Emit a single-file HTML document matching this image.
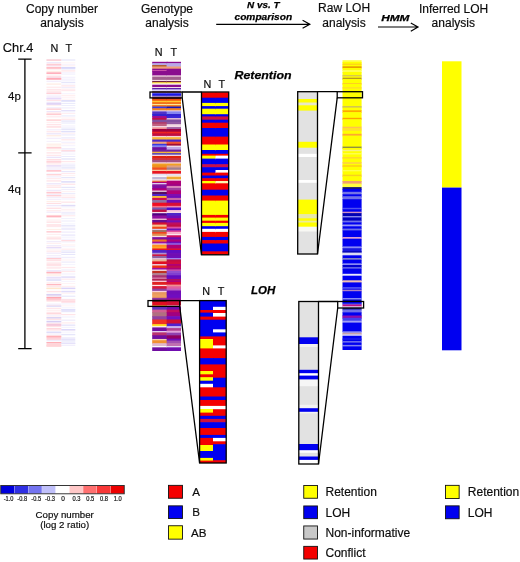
<!DOCTYPE html>
<html lang="en"><head><meta charset="utf-8"><title>LOH analysis figure</title>
<style>
html,body{margin:0;padding:0;background:#fff;}
body{width:520px;height:562px;overflow:hidden;}
svg{display:block;}
svg text{font-family:"Liberation Sans",Arial,Helvetica,sans-serif;fill:#0c0c0c;stroke:#0c0c0c;stroke-width:0.18px;}
</style></head>
<body>
<svg width="520" height="562" viewBox="0 0 520 562">
<defs><filter id="soft" x="-5%" y="-1%" width="110%" height="102%"><feGaussianBlur stdDeviation="0.35"/></filter></defs>
<rect width="520" height="562" fill="#fff"/>
<rect x="201.50" y="92.20" width="14.90" height="6.20" fill="#f40000"/>
<rect x="201.50" y="97.70" width="14.90" height="5.90" fill="#0000f0"/>
<rect x="201.50" y="102.90" width="14.90" height="3.90" fill="#ffff00"/>
<rect x="201.50" y="106.10" width="14.90" height="3.30" fill="#0000f0"/>
<rect x="201.50" y="108.70" width="14.90" height="6.20" fill="#ffff00"/>
<rect x="201.50" y="114.20" width="14.90" height="2.90" fill="#0000f0"/>
<rect x="201.50" y="116.40" width="14.90" height="4.00" fill="#d0103c"/>
<rect x="201.50" y="119.70" width="14.90" height="3.70" fill="#0000f0"/>
<rect x="201.50" y="122.70" width="14.90" height="6.00" fill="#f40000"/>
<rect x="201.50" y="128.00" width="14.90" height="9.30" fill="#0000f0"/>
<rect x="201.50" y="136.60" width="14.90" height="8.60" fill="#f40000"/>
<rect x="201.50" y="144.50" width="14.90" height="6.20" fill="#ffff00"/>
<rect x="201.50" y="150.00" width="14.90" height="4.50" fill="#0000f0"/>
<rect x="201.50" y="153.80" width="14.90" height="2.50" fill="#f40000"/>
<rect x="201.50" y="155.60" width="14.90" height="3.70" fill="#ffff00"/>
<rect x="201.50" y="158.60" width="14.90" height="6.30" fill="#0000f0"/>
<rect x="201.50" y="164.20" width="14.90" height="3.70" fill="#c8104c"/>
<rect x="201.50" y="167.20" width="14.90" height="3.50" fill="#0000f0"/>
<rect x="201.50" y="170.00" width="14.90" height="3.30" fill="#0000f0"/>
<rect x="201.50" y="172.60" width="14.90" height="3.60" fill="#f40000"/>
<rect x="201.50" y="175.50" width="14.90" height="3.40" fill="#0000f0"/>
<rect x="201.50" y="178.20" width="14.90" height="3.50" fill="#f40000"/>
<rect x="201.50" y="181.00" width="14.90" height="3.00" fill="#ffff00"/>
<rect x="201.50" y="183.30" width="14.90" height="7.10" fill="#f40000"/>
<rect x="201.50" y="189.70" width="14.90" height="6.50" fill="#0000f0"/>
<rect x="201.50" y="195.50" width="14.90" height="5.80" fill="#f40000"/>
<rect x="201.50" y="200.60" width="14.90" height="15.00" fill="#ffff00"/>
<rect x="201.50" y="214.90" width="14.90" height="3.40" fill="#f40000"/>
<rect x="201.50" y="217.60" width="14.90" height="3.80" fill="#ffff00"/>
<rect x="201.50" y="220.70" width="14.90" height="2.90" fill="#f40000"/>
<rect x="201.50" y="222.90" width="14.90" height="4.00" fill="#ffff00"/>
<rect x="201.50" y="226.20" width="14.90" height="3.30" fill="#0000f0"/>
<rect x="201.50" y="228.80" width="14.90" height="3.80" fill="#ffffff"/>
<rect x="201.50" y="231.90" width="14.90" height="5.70" fill="#f40000"/>
<rect x="201.50" y="236.90" width="14.90" height="3.90" fill="#0000f0"/>
<rect x="201.50" y="240.10" width="14.90" height="4.10" fill="#f40000"/>
<rect x="201.50" y="243.50" width="14.90" height="8.50" fill="#0000f0"/>
<rect x="201.50" y="251.30" width="14.90" height="3.40" fill="#f40000"/>
<rect x="215.50" y="92.20" width="13.20" height="6.20" fill="#f40000"/>
<rect x="215.50" y="97.70" width="13.20" height="5.90" fill="#0000f0"/>
<rect x="215.50" y="102.90" width="13.20" height="3.90" fill="#ffff00"/>
<rect x="215.50" y="106.10" width="13.20" height="3.30" fill="#0000f0"/>
<rect x="215.50" y="108.70" width="13.20" height="6.20" fill="#ffff00"/>
<rect x="215.50" y="114.20" width="13.20" height="2.90" fill="#0000f0"/>
<rect x="215.50" y="116.40" width="13.20" height="4.00" fill="#d0103c"/>
<rect x="215.50" y="119.70" width="13.20" height="3.70" fill="#0000f0"/>
<rect x="215.50" y="122.70" width="13.20" height="6.00" fill="#f40000"/>
<rect x="215.50" y="128.00" width="13.20" height="9.30" fill="#0000f0"/>
<rect x="215.50" y="136.60" width="13.20" height="8.60" fill="#f40000"/>
<rect x="215.50" y="144.50" width="13.20" height="6.20" fill="#ffff00"/>
<rect x="215.50" y="150.00" width="13.20" height="4.50" fill="#0000f0"/>
<rect x="215.50" y="153.80" width="13.20" height="2.50" fill="#f40000"/>
<rect x="215.50" y="155.60" width="13.20" height="3.70" fill="#ffffff"/>
<rect x="215.50" y="158.60" width="13.20" height="6.30" fill="#0000f0"/>
<rect x="215.50" y="164.20" width="13.20" height="3.70" fill="#c8104c"/>
<rect x="215.50" y="167.20" width="13.20" height="3.50" fill="#0000f0"/>
<rect x="215.50" y="170.00" width="13.20" height="3.30" fill="#ffffff"/>
<rect x="215.50" y="172.60" width="13.20" height="3.60" fill="#f40000"/>
<rect x="215.50" y="175.50" width="13.20" height="3.40" fill="#0000f0"/>
<rect x="215.50" y="178.20" width="13.20" height="3.50" fill="#f40000"/>
<rect x="215.50" y="181.00" width="13.20" height="3.00" fill="#fff8b0"/>
<rect x="215.50" y="183.30" width="13.20" height="7.10" fill="#f40000"/>
<rect x="215.50" y="189.70" width="13.20" height="6.50" fill="#0000f0"/>
<rect x="215.50" y="195.50" width="13.20" height="5.80" fill="#f40000"/>
<rect x="215.50" y="200.60" width="13.20" height="15.00" fill="#ffff00"/>
<rect x="215.50" y="214.90" width="13.20" height="3.40" fill="#f40000"/>
<rect x="215.50" y="217.60" width="13.20" height="3.80" fill="#ffff00"/>
<rect x="215.50" y="220.70" width="13.20" height="2.90" fill="#f40000"/>
<rect x="215.50" y="222.90" width="13.20" height="4.00" fill="#ffff00"/>
<rect x="215.50" y="226.20" width="13.20" height="3.30" fill="#0000f0"/>
<rect x="215.50" y="228.80" width="13.20" height="3.80" fill="#ffffff"/>
<rect x="215.50" y="231.90" width="13.20" height="5.70" fill="#f40000"/>
<rect x="215.50" y="236.90" width="13.20" height="3.90" fill="#0000f0"/>
<rect x="215.50" y="240.10" width="13.20" height="4.10" fill="#f40000"/>
<rect x="215.50" y="243.50" width="13.20" height="8.50" fill="#0000f0"/>
<rect x="215.50" y="251.30" width="13.20" height="3.40" fill="#f40000"/>
<rect x="199.60" y="300.60" width="14.30" height="10.10" fill="#0000f0"/>
<rect x="199.60" y="310.00" width="14.30" height="3.30" fill="#f40000"/>
<rect x="199.60" y="312.60" width="14.30" height="4.70" fill="#0000f0"/>
<rect x="199.60" y="316.60" width="14.30" height="3.80" fill="#f40000"/>
<rect x="199.60" y="319.70" width="14.30" height="17.40" fill="#0000f0"/>
<rect x="199.60" y="336.40" width="14.30" height="3.30" fill="#f40000"/>
<rect x="199.60" y="339.00" width="14.30" height="10.10" fill="#ffff00"/>
<rect x="199.60" y="348.40" width="14.30" height="10.40" fill="#f40000"/>
<rect x="199.60" y="358.10" width="14.30" height="7.00" fill="#0000f0"/>
<rect x="199.60" y="364.40" width="14.30" height="7.30" fill="#f40000"/>
<rect x="199.60" y="371.00" width="14.30" height="4.00" fill="#ffff00"/>
<rect x="199.60" y="374.30" width="14.30" height="3.60" fill="#f40000"/>
<rect x="199.60" y="377.20" width="14.30" height="4.20" fill="#ffff00"/>
<rect x="199.60" y="380.70" width="14.30" height="3.80" fill="#0000f0"/>
<rect x="199.60" y="383.80" width="14.30" height="4.20" fill="#ffffff"/>
<rect x="199.60" y="387.30" width="14.30" height="9.90" fill="#f40000"/>
<rect x="199.60" y="396.50" width="14.30" height="4.20" fill="#0000f0"/>
<rect x="199.60" y="400.00" width="14.30" height="6.60" fill="#f40000"/>
<rect x="199.60" y="405.90" width="14.30" height="3.80" fill="#ffffff"/>
<rect x="199.60" y="409.00" width="14.30" height="4.30" fill="#ffff00"/>
<rect x="199.60" y="412.60" width="14.30" height="3.90" fill="#f40000"/>
<rect x="199.60" y="415.80" width="14.30" height="3.80" fill="#0000f0"/>
<rect x="199.60" y="418.90" width="14.30" height="4.00" fill="#d0103c"/>
<rect x="199.60" y="422.20" width="14.30" height="6.50" fill="#0000f0"/>
<rect x="199.60" y="428.00" width="14.30" height="7.60" fill="#f40000"/>
<rect x="199.60" y="434.90" width="14.30" height="3.70" fill="#0000f0"/>
<rect x="199.60" y="437.90" width="14.30" height="7.80" fill="#f40000"/>
<rect x="199.60" y="445.00" width="14.30" height="6.70" fill="#ffff00"/>
<rect x="199.60" y="451.00" width="14.30" height="7.60" fill="#0000f0"/>
<rect x="199.60" y="457.90" width="14.30" height="3.40" fill="#ffff00"/>
<rect x="199.60" y="460.60" width="14.30" height="2.40" fill="#f40000"/>
<rect x="213.00" y="300.60" width="13.20" height="6.90" fill="#0000f0"/>
<rect x="213.00" y="306.80" width="13.20" height="3.90" fill="#ffffff"/>
<rect x="213.00" y="310.00" width="13.20" height="3.70" fill="#f40000"/>
<rect x="213.00" y="313.00" width="13.20" height="4.30" fill="#ffffff"/>
<rect x="213.00" y="316.60" width="13.20" height="3.80" fill="#f40000"/>
<rect x="213.00" y="319.70" width="13.20" height="10.30" fill="#0000f0"/>
<rect x="213.00" y="329.30" width="13.20" height="3.80" fill="#ffffff"/>
<rect x="213.00" y="332.40" width="13.20" height="4.70" fill="#0000f0"/>
<rect x="213.00" y="336.40" width="13.20" height="9.70" fill="#f40000"/>
<rect x="213.00" y="345.40" width="13.20" height="3.70" fill="#ffffff"/>
<rect x="213.00" y="348.40" width="13.20" height="10.40" fill="#f40000"/>
<rect x="213.00" y="358.10" width="13.20" height="7.00" fill="#0000f0"/>
<rect x="213.00" y="364.40" width="13.20" height="14.00" fill="#f40000"/>
<rect x="213.00" y="377.70" width="13.20" height="10.30" fill="#0000f0"/>
<rect x="213.00" y="387.30" width="13.20" height="9.90" fill="#f40000"/>
<rect x="213.00" y="396.50" width="13.20" height="4.20" fill="#0000f0"/>
<rect x="213.00" y="400.00" width="13.20" height="6.60" fill="#f40000"/>
<rect x="213.00" y="405.90" width="13.20" height="4.00" fill="#ffffff"/>
<rect x="213.00" y="409.20" width="13.20" height="7.30" fill="#f40000"/>
<rect x="213.00" y="415.80" width="13.20" height="3.80" fill="#0000f0"/>
<rect x="213.00" y="418.90" width="13.20" height="4.00" fill="#d0103c"/>
<rect x="213.00" y="422.20" width="13.20" height="6.50" fill="#0000f0"/>
<rect x="213.00" y="428.00" width="13.20" height="7.60" fill="#f40000"/>
<rect x="213.00" y="434.90" width="13.20" height="3.70" fill="#0000f0"/>
<rect x="213.00" y="437.90" width="13.20" height="4.10" fill="#ffffff"/>
<rect x="213.00" y="441.30" width="13.20" height="3.60" fill="#f40000"/>
<rect x="213.00" y="444.20" width="13.20" height="16.70" fill="#0000f0"/>
<rect x="213.00" y="460.20" width="13.20" height="2.80" fill="#f40000"/>
<rect x="297.70" y="91.70" width="19.80" height="8.00" fill="#e2e2e2"/>
<rect x="297.70" y="99.00" width="19.80" height="4.20" fill="#ffff00"/>
<rect x="297.70" y="102.50" width="19.80" height="3.50" fill="#e8e8c8"/>
<rect x="297.70" y="105.30" width="19.80" height="6.00" fill="#ffff00"/>
<rect x="297.70" y="110.60" width="19.80" height="31.90" fill="#e2e2e2"/>
<rect x="297.70" y="141.80" width="19.80" height="6.60" fill="#ffff00"/>
<rect x="297.70" y="147.70" width="19.80" height="6.80" fill="#e2e2e2"/>
<rect x="297.70" y="153.80" width="19.80" height="3.90" fill="#ffffff"/>
<rect x="297.70" y="157.00" width="19.80" height="23.70" fill="#e2e2e2"/>
<rect x="297.70" y="180.00" width="19.80" height="3.50" fill="#ffffff"/>
<rect x="297.70" y="182.80" width="19.80" height="17.50" fill="#e2e2e2"/>
<rect x="297.70" y="199.60" width="19.80" height="15.20" fill="#ffff00"/>
<rect x="297.70" y="214.10" width="19.80" height="4.90" fill="#e8e8a8"/>
<rect x="297.70" y="218.30" width="19.80" height="3.10" fill="#ffff00"/>
<rect x="297.70" y="220.70" width="19.80" height="2.50" fill="#ecec9c"/>
<rect x="297.70" y="222.50" width="19.80" height="4.90" fill="#ffff00"/>
<rect x="297.70" y="226.70" width="19.80" height="5.50" fill="#f8f8f4"/>
<rect x="297.70" y="231.50" width="19.80" height="22.50" fill="#e2e2e2"/>
<rect x="298.80" y="301.50" width="19.70" height="36.50" fill="#e2e2e2"/>
<rect x="298.80" y="337.30" width="19.70" height="7.40" fill="#0000f0"/>
<rect x="298.80" y="344.00" width="19.70" height="3.70" fill="#f0f0f0"/>
<rect x="298.80" y="347.00" width="19.70" height="23.50" fill="#e2e2e2"/>
<rect x="298.80" y="369.80" width="19.70" height="4.10" fill="#0000f0"/>
<rect x="298.80" y="373.20" width="19.70" height="3.10" fill="#ffffff"/>
<rect x="298.80" y="375.60" width="19.70" height="4.50" fill="#0000f0"/>
<rect x="298.80" y="379.40" width="19.70" height="7.50" fill="#f6f6f6"/>
<rect x="298.80" y="386.20" width="19.70" height="19.30" fill="#e2e2e2"/>
<rect x="298.80" y="404.80" width="19.70" height="4.10" fill="#f2f2f2"/>
<rect x="298.80" y="408.20" width="19.70" height="4.30" fill="#0000f0"/>
<rect x="298.80" y="411.80" width="19.70" height="2.30" fill="#f2f2f2"/>
<rect x="298.80" y="413.40" width="19.70" height="31.30" fill="#e2e2e2"/>
<rect x="298.80" y="444.00" width="19.70" height="6.90" fill="#0000f0"/>
<rect x="298.80" y="450.20" width="19.70" height="3.30" fill="#ffffff"/>
<rect x="298.80" y="452.80" width="19.70" height="4.40" fill="#e2e2e2"/>
<rect x="298.80" y="456.50" width="19.70" height="4.10" fill="#0000f0"/>
<rect x="298.80" y="459.90" width="19.70" height="4.10" fill="#ffffff"/>
<rect x="342.50" y="60.20" width="19.10" height="2.50" fill="#ffff40"/>
<rect x="342.50" y="62.00" width="19.10" height="2.40" fill="#ffff00"/>
<rect x="342.50" y="63.70" width="19.10" height="1.70" fill="#ffc820"/>
<rect x="342.50" y="64.70" width="19.10" height="2.50" fill="#ffff00"/>
<rect x="342.50" y="66.50" width="19.10" height="1.90" fill="#e07800"/>
<rect x="342.50" y="67.70" width="19.10" height="3.00" fill="#ffff00"/>
<rect x="342.50" y="70.00" width="19.10" height="2.70" fill="#ffff50"/>
<rect x="342.50" y="72.00" width="19.10" height="3.70" fill="#ffff00"/>
<rect x="342.50" y="75.00" width="19.10" height="2.10" fill="#d8c850"/>
<rect x="342.50" y="76.40" width="19.10" height="2.00" fill="#ffff00"/>
<rect x="342.50" y="77.70" width="19.10" height="2.00" fill="#b89820"/>
<rect x="342.50" y="79.00" width="19.10" height="4.70" fill="#ffff00"/>
<rect x="342.50" y="83.00" width="19.10" height="1.70" fill="#ffd020"/>
<rect x="342.50" y="84.00" width="19.10" height="4.00" fill="#ffff00"/>
<rect x="342.50" y="87.30" width="19.10" height="1.90" fill="#ffd830"/>
<rect x="342.50" y="88.50" width="19.10" height="18.40" fill="#ffff00"/>
<rect x="342.50" y="106.20" width="19.10" height="2.00" fill="#c8b860"/>
<rect x="342.50" y="107.50" width="19.10" height="3.50" fill="#ffff00"/>
<rect x="342.50" y="110.30" width="19.10" height="2.50" fill="#ffa800"/>
<rect x="342.50" y="112.10" width="19.10" height="6.40" fill="#ffff00"/>
<rect x="342.50" y="117.80" width="19.10" height="2.10" fill="#ffa000"/>
<rect x="342.50" y="119.20" width="19.10" height="8.20" fill="#ffff00"/>
<rect x="342.50" y="126.70" width="19.10" height="2.50" fill="#ffc050"/>
<rect x="342.50" y="128.50" width="19.10" height="1.60" fill="#ffff00"/>
<rect x="342.50" y="129.40" width="19.10" height="1.90" fill="#ffd040"/>
<rect x="342.50" y="130.60" width="19.10" height="3.90" fill="#ffff00"/>
<rect x="342.50" y="133.80" width="19.10" height="2.50" fill="#ffa830"/>
<rect x="342.50" y="135.60" width="19.10" height="11.70" fill="#ffff00"/>
<rect x="342.50" y="146.60" width="19.10" height="2.10" fill="#909040"/>
<rect x="342.50" y="148.00" width="19.10" height="2.50" fill="#ffff00"/>
<rect x="342.50" y="149.80" width="19.10" height="2.10" fill="#f8f080"/>
<rect x="342.50" y="151.20" width="19.10" height="2.90" fill="#ffff00"/>
<rect x="342.50" y="153.40" width="19.10" height="1.60" fill="#ffff80"/>
<rect x="342.50" y="154.30" width="19.10" height="3.70" fill="#ffff00"/>
<rect x="342.50" y="157.30" width="19.10" height="1.80" fill="#ffc840"/>
<rect x="342.50" y="158.40" width="19.10" height="4.60" fill="#ffff00"/>
<rect x="342.50" y="162.30" width="19.10" height="2.10" fill="#ffc850"/>
<rect x="342.50" y="163.70" width="19.10" height="2.50" fill="#ffff00"/>
<rect x="342.50" y="165.50" width="19.10" height="1.70" fill="#ffb020"/>
<rect x="342.50" y="166.50" width="19.10" height="4.50" fill="#ffff00"/>
<rect x="342.50" y="170.30" width="19.10" height="1.60" fill="#ffff70"/>
<rect x="342.50" y="171.20" width="19.10" height="4.20" fill="#ffff00"/>
<rect x="342.50" y="174.70" width="19.10" height="2.20" fill="#f8d020"/>
<rect x="342.50" y="176.20" width="19.10" height="5.50" fill="#ffff00"/>
<rect x="342.50" y="181.00" width="19.10" height="3.30" fill="#f0a070"/>
<rect x="342.50" y="183.60" width="19.10" height="4.20" fill="#ffff40"/>
<rect x="342.50" y="187.10" width="19.10" height="2.50" fill="#181870"/>
<rect x="342.50" y="188.90" width="19.10" height="3.60" fill="#0000f0"/>
<rect x="342.50" y="191.80" width="19.10" height="3.20" fill="#7474e4"/>
<rect x="342.50" y="194.30" width="19.10" height="2.40" fill="#0000f0"/>
<rect x="342.50" y="196.00" width="19.10" height="1.70" fill="#5858f0"/>
<rect x="342.50" y="197.00" width="19.10" height="2.90" fill="#7070e8"/>
<rect x="342.50" y="199.20" width="19.10" height="9.30" fill="#0000f0"/>
<rect x="342.50" y="207.80" width="19.10" height="2.10" fill="#5050f0"/>
<rect x="342.50" y="209.20" width="19.10" height="3.20" fill="#0000f0"/>
<rect x="342.50" y="211.70" width="19.10" height="2.10" fill="#d090c0"/>
<rect x="342.50" y="213.10" width="19.10" height="3.70" fill="#0000b4"/>
<rect x="342.50" y="216.10" width="19.10" height="2.00" fill="#9090f0"/>
<rect x="342.50" y="217.40" width="19.10" height="3.90" fill="#0000c0"/>
<rect x="342.50" y="220.60" width="19.10" height="2.50" fill="#7070e8"/>
<rect x="342.50" y="222.40" width="19.10" height="2.80" fill="#0000f0"/>
<rect x="342.50" y="224.50" width="19.10" height="2.50" fill="#9898f4"/>
<rect x="342.50" y="226.30" width="19.10" height="3.00" fill="#0000f0"/>
<rect x="342.50" y="228.60" width="19.10" height="2.50" fill="#7070e8"/>
<rect x="342.50" y="230.40" width="19.10" height="7.30" fill="#0000f0"/>
<rect x="342.50" y="237.00" width="19.10" height="2.40" fill="#e0a0d0"/>
<rect x="342.50" y="238.70" width="19.10" height="8.40" fill="#0000f0"/>
<rect x="342.50" y="246.40" width="19.10" height="2.50" fill="#8888f4"/>
<rect x="342.50" y="248.20" width="19.10" height="3.70" fill="#1818e0"/>
<rect x="342.50" y="251.20" width="19.10" height="2.10" fill="#0000b0"/>
<rect x="342.50" y="252.60" width="19.10" height="3.40" fill="#dcdcf4"/>
<rect x="342.50" y="255.30" width="19.10" height="3.40" fill="#0000f0"/>
<rect x="342.50" y="258.00" width="19.10" height="2.40" fill="#8080c8"/>
<rect x="342.50" y="259.70" width="19.10" height="4.30" fill="#0000f0"/>
<rect x="342.50" y="263.30" width="19.10" height="2.40" fill="#8888f4"/>
<rect x="342.50" y="265.00" width="19.10" height="2.90" fill="#0000d0"/>
<rect x="342.50" y="267.20" width="19.10" height="2.10" fill="#7070e8"/>
<rect x="342.50" y="268.60" width="19.10" height="5.90" fill="#0000f0"/>
<rect x="342.50" y="273.80" width="19.10" height="2.60" fill="#e8e8fc"/>
<rect x="342.50" y="275.70" width="19.10" height="5.30" fill="#0000f0"/>
<rect x="342.50" y="280.30" width="19.10" height="2.80" fill="#f0c0b0"/>
<rect x="342.50" y="282.40" width="19.10" height="5.70" fill="#0000f0"/>
<rect x="342.50" y="287.40" width="19.10" height="1.80" fill="#8080f4"/>
<rect x="342.50" y="288.50" width="19.10" height="1.90" fill="#0000f0"/>
<rect x="342.50" y="289.70" width="19.10" height="2.20" fill="#b080c0"/>
<rect x="342.50" y="291.20" width="19.10" height="7.50" fill="#0000f0"/>
<rect x="342.50" y="298.00" width="19.10" height="2.20" fill="#8888f4"/>
<rect x="342.50" y="299.50" width="19.10" height="3.00" fill="#0000c0"/>
<rect x="342.50" y="301.80" width="19.10" height="2.50" fill="#0000f0"/>
<rect x="342.50" y="303.60" width="19.10" height="1.60" fill="#6868f0"/>
<rect x="342.50" y="304.50" width="19.10" height="2.50" fill="#c01080"/>
<rect x="342.50" y="306.30" width="19.10" height="2.20" fill="#e8e0fc"/>
<rect x="342.50" y="307.80" width="19.10" height="2.50" fill="#2020a0"/>
<rect x="342.50" y="309.60" width="19.10" height="3.50" fill="#7070e8"/>
<rect x="342.50" y="312.40" width="19.10" height="3.70" fill="#0000f0"/>
<rect x="342.50" y="315.40" width="19.10" height="1.60" fill="#7010c0"/>
<rect x="342.50" y="316.30" width="19.10" height="1.60" fill="#a010a0"/>
<rect x="342.50" y="317.20" width="19.10" height="1.60" fill="#7010c0"/>
<rect x="342.50" y="318.10" width="19.10" height="3.30" fill="#4040f0"/>
<rect x="342.50" y="320.70" width="19.10" height="2.60" fill="#a0a0f4"/>
<rect x="342.50" y="322.60" width="19.10" height="9.40" fill="#0000f0"/>
<rect x="342.50" y="331.30" width="19.10" height="2.20" fill="#9090f4"/>
<rect x="342.50" y="332.80" width="19.10" height="2.20" fill="#c8a0a8"/>
<rect x="342.50" y="334.30" width="19.10" height="2.20" fill="#d0d0f8"/>
<rect x="342.50" y="335.80" width="19.10" height="3.50" fill="#0000f0"/>
<rect x="342.50" y="338.60" width="19.10" height="1.50" fill="#3030f0"/>
<rect x="342.50" y="339.40" width="19.10" height="2.40" fill="#0000f0"/>
<rect x="342.50" y="341.10" width="19.10" height="2.20" fill="#7070ec"/>
<rect x="342.50" y="342.60" width="19.10" height="3.00" fill="#0000f0"/>
<rect x="342.50" y="344.90" width="19.10" height="2.20" fill="#8080f0"/>
<rect x="342.50" y="346.40" width="19.10" height="3.60" fill="#0000f0"/>
<rect x="442.00" y="61.30" width="19.50" height="126.30" fill="#ffff00"/>
<rect x="442.00" y="187.60" width="19.50" height="162.70" fill="#0000f0"/>
<g filter="url(#soft)">
<rect x="152.20" y="61.80" width="15.40" height="2.00" fill="#8a0a8e"/>
<rect x="152.20" y="63.10" width="15.40" height="2.60" fill="#b8a8e8"/>
<rect x="152.20" y="65.00" width="15.40" height="2.20" fill="#b06030"/>
<rect x="152.20" y="66.50" width="15.40" height="2.90" fill="#f0a078"/>
<rect x="152.20" y="68.70" width="15.40" height="2.00" fill="#8a0a8e"/>
<rect x="152.20" y="70.00" width="15.40" height="1.70" fill="#c850a8"/>
<rect x="152.20" y="71.00" width="15.40" height="5.08" fill="#8a0a8e"/>
<rect x="152.20" y="75.38" width="15.40" height="1.95" fill="#f6dce8"/>
<rect x="152.20" y="76.62" width="15.40" height="3.98" fill="#a0608c"/>
<rect x="152.20" y="79.90" width="15.40" height="1.80" fill="#f6dce8"/>
<rect x="152.20" y="81.00" width="15.40" height="1.87" fill="#702040"/>
<rect x="152.20" y="82.17" width="15.40" height="1.96" fill="#ffe040"/>
<rect x="152.20" y="83.44" width="15.40" height="1.95" fill="#ffffff"/>
<rect x="152.20" y="84.69" width="15.40" height="3.01" fill="#8a0a8e"/>
<rect x="152.20" y="87.00" width="15.40" height="1.70" fill="#f6dce8"/>
<rect x="152.20" y="88.00" width="15.40" height="1.90" fill="#6020a8"/>
<rect x="152.20" y="89.20" width="15.40" height="2.00" fill="#c0b0f0"/>
<rect x="152.20" y="90.50" width="15.40" height="1.60" fill="#ffffff"/>
<rect x="152.20" y="91.40" width="15.40" height="1.80" fill="#601020"/>
<rect x="152.20" y="92.50" width="15.40" height="1.50" fill="#c8b8e8"/>
<rect x="152.20" y="93.30" width="15.40" height="3.00" fill="#1818e8"/>
<rect x="152.20" y="95.60" width="15.40" height="1.80" fill="#8060b8"/>
<rect x="152.20" y="96.70" width="15.40" height="1.30" fill="#e0c8d8"/>
<rect x="152.20" y="97.30" width="15.40" height="2.40" fill="#801818"/>
<rect x="152.20" y="99.00" width="15.40" height="2.40" fill="#f05010"/>
<rect x="152.20" y="100.70" width="15.40" height="2.30" fill="#ffc830"/>
<rect x="152.20" y="102.30" width="15.40" height="2.30" fill="#f06010"/>
<rect x="152.20" y="103.90" width="15.40" height="1.70" fill="#fff0a0"/>
<rect x="152.20" y="104.90" width="15.40" height="2.30" fill="#f08020"/>
<rect x="152.20" y="106.50" width="15.40" height="2.40" fill="#3838e0"/>
<rect x="152.20" y="108.20" width="15.40" height="2.80" fill="#f08020"/>
<rect x="152.20" y="110.30" width="15.40" height="1.80" fill="#e0d0f0"/>
<rect x="152.20" y="111.40" width="15.40" height="3.30" fill="#5030c8"/>
<rect x="152.20" y="114.00" width="15.40" height="2.70" fill="#3020d0"/>
<rect x="152.20" y="116.00" width="15.40" height="2.60" fill="#a01090"/>
<rect x="152.20" y="117.90" width="15.40" height="2.50" fill="#c01044"/>
<rect x="152.20" y="119.70" width="15.40" height="3.10" fill="#8050a0"/>
<rect x="152.20" y="122.10" width="15.40" height="2.30" fill="#b03868"/>
<rect x="152.20" y="123.70" width="15.40" height="3.08" fill="#c06080"/>
<rect x="152.20" y="126.08" width="15.40" height="1.95" fill="#f6dce8"/>
<rect x="152.20" y="127.33" width="15.40" height="2.37" fill="#f09090"/>
<rect x="152.20" y="129.00" width="15.40" height="3.40" fill="#a00040"/>
<rect x="152.20" y="131.70" width="15.40" height="2.30" fill="#f02020"/>
<rect x="152.20" y="133.30" width="15.40" height="3.33" fill="#c01040"/>
<rect x="152.20" y="135.93" width="15.40" height="1.95" fill="#f8d0d8"/>
<rect x="152.20" y="137.18" width="15.40" height="3.02" fill="#f8b838"/>
<rect x="152.20" y="139.50" width="15.40" height="2.90" fill="#5028c8"/>
<rect x="152.20" y="141.70" width="15.40" height="2.80" fill="#f0a078"/>
<rect x="152.20" y="143.80" width="15.40" height="2.20" fill="#3838e0"/>
<rect x="152.20" y="145.30" width="15.40" height="2.60" fill="#8484f0"/>
<rect x="152.20" y="147.20" width="15.40" height="3.10" fill="#7010a0"/>
<rect x="152.20" y="149.60" width="15.40" height="2.80" fill="#7020a0"/>
<rect x="152.20" y="151.70" width="15.40" height="2.00" fill="#f8b838"/>
<rect x="152.20" y="153.00" width="15.40" height="2.42" fill="#6050b0"/>
<rect x="152.20" y="154.72" width="15.40" height="1.95" fill="#f6dce8"/>
<rect x="152.20" y="155.97" width="15.40" height="2.73" fill="#e02010"/>
<rect x="152.20" y="158.00" width="15.40" height="2.70" fill="#d03040"/>
<rect x="152.20" y="160.00" width="15.40" height="2.98" fill="#a05080"/>
<rect x="152.20" y="162.28" width="15.40" height="1.95" fill="#f8d8e0"/>
<rect x="152.20" y="163.53" width="15.40" height="2.58" fill="#f0a020"/>
<rect x="152.20" y="165.40" width="15.40" height="2.80" fill="#f09020"/>
<rect x="152.20" y="167.50" width="15.40" height="2.97" fill="#f05020"/>
<rect x="152.20" y="169.77" width="15.40" height="1.95" fill="#f8c8a0"/>
<rect x="152.20" y="171.02" width="15.40" height="3.35" fill="#e81820"/>
<rect x="152.20" y="173.68" width="15.40" height="2.66" fill="#e8e0f4"/>
<rect x="152.20" y="175.64" width="15.40" height="1.95" fill="#ffffff"/>
<rect x="152.20" y="176.89" width="15.40" height="3.19" fill="#c0b8d8"/>
<rect x="152.20" y="179.38" width="15.40" height="1.95" fill="#fcf0f0"/>
<rect x="152.20" y="180.62" width="15.40" height="2.08" fill="#e06040"/>
<rect x="152.20" y="182.00" width="15.40" height="1.73" fill="#b00078"/>
<rect x="152.20" y="183.03" width="15.40" height="1.95" fill="#e0d0f0"/>
<rect x="152.20" y="184.28" width="15.40" height="2.02" fill="#8818a0"/>
<rect x="152.20" y="185.60" width="15.40" height="3.40" fill="#8010a0"/>
<rect x="152.20" y="188.30" width="15.40" height="2.97" fill="#b00078"/>
<rect x="152.20" y="190.57" width="15.40" height="1.95" fill="#f6dce8"/>
<rect x="152.20" y="191.82" width="15.40" height="2.88" fill="#580860"/>
<rect x="152.20" y="194.00" width="15.40" height="2.70" fill="#5028c8"/>
<rect x="152.20" y="196.00" width="15.40" height="2.60" fill="#f8b838"/>
<rect x="152.20" y="197.90" width="15.40" height="2.80" fill="#d01050"/>
<rect x="152.20" y="200.00" width="15.40" height="3.40" fill="#9070a0"/>
<rect x="152.20" y="202.70" width="15.40" height="3.90" fill="#f01020"/>
<rect x="152.20" y="205.90" width="15.40" height="2.30" fill="#f87080"/>
<rect x="152.20" y="207.50" width="15.40" height="2.80" fill="#7858b0"/>
<rect x="152.20" y="209.60" width="15.40" height="3.08" fill="#c01044"/>
<rect x="152.20" y="211.98" width="15.40" height="1.95" fill="#f6dce8"/>
<rect x="152.20" y="213.23" width="15.40" height="2.97" fill="#500080"/>
<rect x="152.20" y="215.50" width="15.40" height="3.83" fill="#9010a0"/>
<rect x="152.20" y="218.62" width="15.40" height="1.95" fill="#f8c8d8"/>
<rect x="152.20" y="219.88" width="15.40" height="3.23" fill="#680890"/>
<rect x="152.20" y="222.40" width="15.40" height="2.90" fill="#d81030"/>
<rect x="152.20" y="224.60" width="15.40" height="2.80" fill="#f8c090"/>
<rect x="152.20" y="226.70" width="15.40" height="2.83" fill="#f04818"/>
<rect x="152.20" y="228.82" width="15.40" height="1.95" fill="#d8c8f0"/>
<rect x="152.20" y="230.07" width="15.40" height="2.63" fill="#a07060"/>
<rect x="152.20" y="232.00" width="15.40" height="2.30" fill="#f04020"/>
<rect x="152.20" y="233.60" width="15.40" height="2.98" fill="#e09050"/>
<rect x="152.20" y="235.88" width="15.40" height="1.95" fill="#f8e0e0"/>
<rect x="152.20" y="237.12" width="15.40" height="3.08" fill="#8010a0"/>
<rect x="152.20" y="239.50" width="15.40" height="2.80" fill="#f07020"/>
<rect x="152.20" y="241.60" width="15.40" height="2.48" fill="#a010a0"/>
<rect x="152.20" y="243.38" width="15.40" height="1.95" fill="#e0d0f4"/>
<rect x="152.20" y="244.62" width="15.40" height="2.67" fill="#ff9020"/>
<rect x="152.20" y="246.60" width="15.40" height="2.60" fill="#ffa828"/>
<rect x="152.20" y="248.50" width="15.40" height="2.20" fill="#e81828"/>
<rect x="152.20" y="250.00" width="15.40" height="3.50" fill="#5028c8"/>
<rect x="152.20" y="252.80" width="15.40" height="2.30" fill="#b090d0"/>
<rect x="152.20" y="254.40" width="15.40" height="2.30" fill="#d01840"/>
<rect x="152.20" y="256.00" width="15.40" height="2.70" fill="#9060a0"/>
<rect x="152.20" y="258.00" width="15.40" height="2.10" fill="#e0c0d8"/>
<rect x="152.20" y="259.40" width="15.40" height="2.70" fill="#e8b090"/>
<rect x="152.20" y="261.40" width="15.40" height="3.48" fill="#e01020"/>
<rect x="152.20" y="264.18" width="15.40" height="1.95" fill="#f0e8f8"/>
<rect x="152.20" y="265.43" width="15.40" height="3.08" fill="#f03010"/>
<rect x="152.20" y="267.80" width="15.40" height="2.47" fill="#a010a0"/>
<rect x="152.20" y="269.57" width="15.40" height="1.95" fill="#fcf0f4"/>
<rect x="152.20" y="270.82" width="15.40" height="2.88" fill="#c03020"/>
<rect x="152.20" y="273.00" width="15.40" height="2.90" fill="#b08090"/>
<rect x="152.20" y="275.20" width="15.40" height="2.90" fill="#a83070"/>
<rect x="152.20" y="277.40" width="15.40" height="2.30" fill="#d070a0"/>
<rect x="152.20" y="279.00" width="15.40" height="2.38" fill="#b02050"/>
<rect x="152.20" y="280.68" width="15.40" height="1.95" fill="#f8d0e0"/>
<rect x="152.20" y="281.93" width="15.40" height="3.60" fill="#e02020"/>
<rect x="152.20" y="284.83" width="15.40" height="1.95" fill="#fce8e8"/>
<rect x="152.20" y="286.08" width="15.40" height="3.22" fill="#d81838"/>
<rect x="152.20" y="288.60" width="15.40" height="2.97" fill="#9040a0"/>
<rect x="152.20" y="290.88" width="15.40" height="1.95" fill="#f8d0e0"/>
<rect x="152.20" y="292.12" width="15.40" height="3.08" fill="#e89860"/>
<rect x="152.20" y="294.50" width="15.40" height="4.00" fill="#f0a060"/>
<rect x="152.20" y="297.80" width="15.40" height="2.70" fill="#9030a0"/>
<rect x="152.20" y="299.80" width="15.40" height="2.60" fill="#500818"/>
<rect x="152.20" y="301.70" width="15.40" height="4.00" fill="#e01020"/>
<rect x="152.20" y="305.00" width="15.40" height="2.70" fill="#f08030"/>
<rect x="152.20" y="307.00" width="15.40" height="3.30" fill="#6030c0"/>
<rect x="152.20" y="309.60" width="15.40" height="3.40" fill="#d06090"/>
<rect x="152.20" y="312.30" width="15.40" height="4.60" fill="#b07080"/>
<rect x="152.20" y="316.20" width="15.40" height="4.00" fill="#9040a0"/>
<rect x="152.20" y="319.50" width="15.40" height="5.38" fill="#f03020"/>
<rect x="152.20" y="324.18" width="15.40" height="2.66" fill="#ffe020"/>
<rect x="152.20" y="326.14" width="15.40" height="1.95" fill="#fcf4f0"/>
<rect x="152.20" y="327.39" width="15.40" height="4.39" fill="#7010a0"/>
<rect x="152.20" y="331.07" width="15.40" height="1.95" fill="#e8d8f4"/>
<rect x="152.20" y="332.32" width="15.40" height="3.68" fill="#b83070"/>
<rect x="152.20" y="335.30" width="15.40" height="4.38" fill="#7010a0"/>
<rect x="152.20" y="338.98" width="15.40" height="1.95" fill="#f8d0b0"/>
<rect x="152.20" y="340.23" width="15.40" height="3.67" fill="#f09030"/>
<rect x="152.20" y="343.20" width="15.40" height="3.58" fill="#e0b8d0"/>
<rect x="152.20" y="346.07" width="15.40" height="1.95" fill="#ffffff"/>
<rect x="152.20" y="347.32" width="15.40" height="3.68" fill="#7010a0"/>
<rect x="166.70" y="61.80" width="14.30" height="2.00" fill="#8a0a8e"/>
<rect x="166.70" y="63.10" width="14.30" height="2.60" fill="#b8a8e8"/>
<rect x="166.70" y="65.00" width="14.30" height="2.20" fill="#b8a8e8"/>
<rect x="166.70" y="66.50" width="14.30" height="2.90" fill="#f0a078"/>
<rect x="166.70" y="68.70" width="14.30" height="2.00" fill="#8a0a8e"/>
<rect x="166.70" y="70.00" width="14.30" height="1.70" fill="#8a0a8e"/>
<rect x="166.70" y="71.00" width="14.30" height="5.08" fill="#8a0a8e"/>
<rect x="166.70" y="75.38" width="14.30" height="1.95" fill="#f6dce8"/>
<rect x="166.70" y="76.62" width="14.30" height="3.98" fill="#a0608c"/>
<rect x="166.70" y="79.90" width="14.30" height="1.80" fill="#f6dce8"/>
<rect x="166.70" y="81.00" width="14.30" height="1.87" fill="#702040"/>
<rect x="166.70" y="82.17" width="14.30" height="1.96" fill="#ffe040"/>
<rect x="166.70" y="83.44" width="14.30" height="1.95" fill="#ffffff"/>
<rect x="166.70" y="84.69" width="14.30" height="3.01" fill="#8a0a8e"/>
<rect x="166.70" y="87.00" width="14.30" height="1.70" fill="#f6dce8"/>
<rect x="166.70" y="88.00" width="14.30" height="1.90" fill="#6020a8"/>
<rect x="166.70" y="89.20" width="14.30" height="2.00" fill="#c0b0f0"/>
<rect x="166.70" y="90.50" width="14.30" height="1.60" fill="#ffffff"/>
<rect x="166.70" y="91.40" width="14.30" height="1.80" fill="#601020"/>
<rect x="166.70" y="92.50" width="14.30" height="1.50" fill="#c8b8e8"/>
<rect x="166.70" y="93.30" width="14.30" height="3.00" fill="#1818e8"/>
<rect x="166.70" y="95.60" width="14.30" height="1.80" fill="#8060b8"/>
<rect x="166.70" y="96.70" width="14.30" height="1.30" fill="#e0c8d8"/>
<rect x="166.70" y="97.30" width="14.30" height="2.40" fill="#801818"/>
<rect x="166.70" y="99.00" width="14.30" height="2.40" fill="#f05010"/>
<rect x="166.70" y="100.70" width="14.30" height="2.30" fill="#ffc830"/>
<rect x="166.70" y="102.30" width="14.30" height="2.30" fill="#f06010"/>
<rect x="166.70" y="103.90" width="14.30" height="1.70" fill="#fff0a0"/>
<rect x="166.70" y="104.90" width="14.30" height="2.30" fill="#f08020"/>
<rect x="166.70" y="106.50" width="14.30" height="2.40" fill="#1818b8"/>
<rect x="166.70" y="108.20" width="14.30" height="2.80" fill="#f08020"/>
<rect x="166.70" y="110.30" width="14.30" height="1.80" fill="#e0d0f0"/>
<rect x="166.70" y="111.40" width="14.30" height="3.30" fill="#8484f0"/>
<rect x="166.70" y="114.00" width="14.30" height="2.70" fill="#3020d0"/>
<rect x="166.70" y="116.00" width="14.30" height="2.88" fill="#3828d8"/>
<rect x="166.70" y="118.18" width="14.30" height="1.95" fill="#f8d0d8"/>
<rect x="166.70" y="119.43" width="14.30" height="3.37" fill="#8050a0"/>
<rect x="166.70" y="122.10" width="14.30" height="2.78" fill="#9058a0"/>
<rect x="166.70" y="124.18" width="14.30" height="2.36" fill="#f0d8e0"/>
<rect x="166.70" y="125.84" width="14.30" height="1.95" fill="#f6dce8"/>
<rect x="166.70" y="127.09" width="14.30" height="2.61" fill="#a060a0"/>
<rect x="166.70" y="129.00" width="14.30" height="3.40" fill="#a00040"/>
<rect x="166.70" y="131.70" width="14.30" height="2.30" fill="#f02020"/>
<rect x="166.70" y="133.30" width="14.30" height="3.33" fill="#c01040"/>
<rect x="166.70" y="135.93" width="14.30" height="1.95" fill="#f8d0d8"/>
<rect x="166.70" y="137.18" width="14.30" height="3.02" fill="#f8b838"/>
<rect x="166.70" y="139.50" width="14.30" height="2.90" fill="#5028c8"/>
<rect x="166.70" y="141.70" width="14.30" height="2.80" fill="#f05030"/>
<rect x="166.70" y="143.80" width="14.30" height="2.52" fill="#a00838"/>
<rect x="166.70" y="145.62" width="14.30" height="1.95" fill="#f4e8f4"/>
<rect x="166.70" y="146.88" width="14.30" height="3.42" fill="#c0a8e8"/>
<rect x="166.70" y="149.60" width="14.30" height="2.80" fill="#7020a0"/>
<rect x="166.70" y="151.70" width="14.30" height="2.00" fill="#f8b838"/>
<rect x="166.70" y="153.00" width="14.30" height="2.42" fill="#6050b0"/>
<rect x="166.70" y="154.72" width="14.30" height="1.95" fill="#f6dce8"/>
<rect x="166.70" y="155.97" width="14.30" height="2.73" fill="#e02010"/>
<rect x="166.70" y="158.00" width="14.30" height="2.70" fill="#d03040"/>
<rect x="166.70" y="160.00" width="14.30" height="2.98" fill="#a05080"/>
<rect x="166.70" y="162.28" width="14.30" height="1.95" fill="#f8d8e0"/>
<rect x="166.70" y="163.53" width="14.30" height="2.58" fill="#f0a020"/>
<rect x="166.70" y="165.40" width="14.30" height="2.80" fill="#e0a080"/>
<rect x="166.70" y="167.50" width="14.30" height="2.97" fill="#a08090"/>
<rect x="166.70" y="169.77" width="14.30" height="1.95" fill="#f8c8a0"/>
<rect x="166.70" y="171.02" width="14.30" height="3.35" fill="#e81820"/>
<rect x="166.70" y="173.68" width="14.30" height="2.66" fill="#e8e0f4"/>
<rect x="166.70" y="175.64" width="14.30" height="1.95" fill="#fce0b8"/>
<rect x="166.70" y="176.89" width="14.30" height="3.19" fill="#f0a830"/>
<rect x="166.70" y="179.38" width="14.30" height="1.95" fill="#fcf0f0"/>
<rect x="166.70" y="180.62" width="14.30" height="2.08" fill="#b00078"/>
<rect x="166.70" y="182.00" width="14.30" height="1.70" fill="#b00078"/>
<rect x="166.70" y="183.00" width="14.30" height="2.00" fill="#b00078"/>
<rect x="166.70" y="184.30" width="14.30" height="2.72" fill="#a00888"/>
<rect x="166.70" y="186.32" width="14.30" height="1.95" fill="#f8b8d0"/>
<rect x="166.70" y="187.57" width="14.30" height="3.53" fill="#a040a0"/>
<rect x="166.70" y="190.40" width="14.30" height="2.30" fill="#b00078"/>
<rect x="166.70" y="192.00" width="14.30" height="2.70" fill="#b00078"/>
<rect x="166.70" y="194.00" width="14.30" height="2.70" fill="#8010b0"/>
<rect x="166.70" y="196.00" width="14.30" height="2.60" fill="#7010b8"/>
<rect x="166.70" y="197.90" width="14.30" height="2.80" fill="#c868a8"/>
<rect x="166.70" y="200.00" width="14.30" height="3.40" fill="#7010b8"/>
<rect x="166.70" y="202.70" width="14.30" height="3.90" fill="#d81038"/>
<rect x="166.70" y="205.90" width="14.30" height="2.30" fill="#f080a8"/>
<rect x="166.70" y="207.50" width="14.30" height="3.27" fill="#5010d0"/>
<rect x="166.70" y="210.07" width="14.30" height="2.36" fill="#f8c0d8"/>
<rect x="166.70" y="211.74" width="14.30" height="1.95" fill="#f6dce8"/>
<rect x="166.70" y="212.99" width="14.30" height="3.21" fill="#5028c8"/>
<rect x="166.70" y="215.50" width="14.30" height="3.40" fill="#7010b8"/>
<rect x="166.70" y="218.20" width="14.30" height="2.80" fill="#b00078"/>
<rect x="166.70" y="220.30" width="14.30" height="2.80" fill="#7010b8"/>
<rect x="166.70" y="222.40" width="14.30" height="2.90" fill="#c00860"/>
<rect x="166.70" y="224.60" width="14.30" height="2.80" fill="#c01044"/>
<rect x="166.70" y="226.70" width="14.30" height="2.50" fill="#e050a0"/>
<rect x="166.70" y="228.50" width="14.30" height="2.60" fill="#7010b8"/>
<rect x="166.70" y="230.40" width="14.30" height="2.30" fill="#e04898"/>
<rect x="166.70" y="232.00" width="14.30" height="2.72" fill="#f8b0c8"/>
<rect x="166.70" y="234.02" width="14.30" height="1.95" fill="#fce8f0"/>
<rect x="166.70" y="235.27" width="14.30" height="2.73" fill="#d01060"/>
<rect x="166.70" y="237.30" width="14.30" height="2.90" fill="#7010b0"/>
<rect x="166.70" y="239.50" width="14.30" height="2.80" fill="#b00078"/>
<rect x="166.70" y="241.60" width="14.30" height="2.30" fill="#7010b8"/>
<rect x="166.70" y="243.20" width="14.30" height="2.30" fill="#9060e0"/>
<rect x="166.70" y="244.80" width="14.30" height="2.50" fill="#b00078"/>
<rect x="166.70" y="246.60" width="14.30" height="2.60" fill="#b00078"/>
<rect x="166.70" y="248.50" width="14.30" height="2.20" fill="#e01030"/>
<rect x="166.70" y="250.00" width="14.30" height="3.50" fill="#6010c0"/>
<rect x="166.70" y="252.80" width="14.30" height="2.30" fill="#7010b8"/>
<rect x="166.70" y="254.40" width="14.30" height="2.30" fill="#7010b0"/>
<rect x="166.70" y="256.00" width="14.30" height="2.70" fill="#7010b8"/>
<rect x="166.70" y="258.00" width="14.30" height="2.10" fill="#a080f0"/>
<rect x="166.70" y="259.40" width="14.30" height="2.70" fill="#c01044"/>
<rect x="166.70" y="261.40" width="14.30" height="3.30" fill="#d01040"/>
<rect x="166.70" y="264.00" width="14.30" height="2.30" fill="#b00078"/>
<rect x="166.70" y="265.60" width="14.30" height="2.90" fill="#c01050"/>
<rect x="166.70" y="267.80" width="14.30" height="2.30" fill="#b00078"/>
<rect x="166.70" y="269.40" width="14.30" height="2.30" fill="#c050b0"/>
<rect x="166.70" y="271.00" width="14.30" height="2.70" fill="#9050d0"/>
<rect x="166.70" y="273.00" width="14.30" height="2.90" fill="#8040d0"/>
<rect x="166.70" y="275.20" width="14.30" height="2.90" fill="#6010c0"/>
<rect x="166.70" y="277.40" width="14.30" height="2.30" fill="#7010b8"/>
<rect x="166.70" y="279.00" width="14.30" height="2.30" fill="#b01060"/>
<rect x="166.70" y="280.60" width="14.30" height="2.10" fill="#b00078"/>
<rect x="166.70" y="282.00" width="14.30" height="3.30" fill="#d81038"/>
<rect x="166.70" y="284.60" width="14.30" height="2.40" fill="#f09090"/>
<rect x="166.70" y="286.30" width="14.30" height="3.00" fill="#e060a0"/>
<rect x="166.70" y="288.60" width="14.30" height="2.60" fill="#c060c0"/>
<rect x="166.70" y="290.50" width="14.30" height="2.70" fill="#7010b8"/>
<rect x="166.70" y="292.50" width="14.30" height="2.70" fill="#7010b8"/>
<rect x="166.70" y="294.50" width="14.30" height="4.00" fill="#7010c0"/>
<rect x="166.70" y="297.80" width="14.30" height="2.70" fill="#9010a0"/>
<rect x="166.70" y="299.80" width="14.30" height="2.60" fill="#c01040"/>
<rect x="166.70" y="301.70" width="14.30" height="4.00" fill="#d01030"/>
<rect x="166.70" y="305.00" width="14.30" height="2.70" fill="#f088a0"/>
<rect x="166.70" y="307.00" width="14.30" height="3.30" fill="#7010b0"/>
<rect x="166.70" y="309.60" width="14.30" height="3.40" fill="#c01060"/>
<rect x="166.70" y="312.30" width="14.30" height="4.60" fill="#a00080"/>
<rect x="166.70" y="316.20" width="14.30" height="4.00" fill="#7010c0"/>
<rect x="166.70" y="319.50" width="14.30" height="4.70" fill="#d01030"/>
<rect x="166.70" y="323.50" width="14.30" height="3.30" fill="#5020d0"/>
<rect x="166.70" y="326.10" width="14.30" height="2.70" fill="#c8b0f0"/>
<rect x="166.70" y="328.10" width="14.30" height="3.30" fill="#b04090"/>
<rect x="166.70" y="330.70" width="14.30" height="2.70" fill="#e0a0d8"/>
<rect x="166.70" y="332.70" width="14.30" height="3.30" fill="#9040b0"/>
<rect x="166.70" y="335.30" width="14.30" height="4.00" fill="#900060"/>
<rect x="166.70" y="338.60" width="14.30" height="2.70" fill="#7010b8"/>
<rect x="166.70" y="340.60" width="14.30" height="3.30" fill="#a050b0"/>
<rect x="166.70" y="343.20" width="14.30" height="3.58" fill="#c070b0"/>
<rect x="166.70" y="346.07" width="14.30" height="1.95" fill="#e8e0f8"/>
<rect x="166.70" y="347.32" width="14.30" height="3.68" fill="#7010b0"/>
</g>
<g filter="url(#soft)">
<rect x="46.50" y="59.40" width="14.80" height="1.00" fill="#f4eefc"/>
<rect x="46.50" y="62.20" width="14.80" height="1.00" fill="#ebe4fa"/>
<rect x="46.50" y="65.00" width="14.80" height="1.40" fill="#f4eefc"/>
<rect x="46.50" y="66.70" width="14.80" height="0.90" fill="#ffdfe3"/>
<rect x="46.50" y="68.50" width="14.80" height="1.00" fill="#ffe6e8"/>
<rect x="46.50" y="70.80" width="14.80" height="1.40" fill="#ffeee6"/>
<rect x="46.50" y="72.80" width="14.80" height="1.00" fill="#ffecee"/>
<rect x="46.50" y="75.60" width="14.80" height="1.40" fill="#ffe2e6"/>
<rect x="46.50" y="77.30" width="14.80" height="1.00" fill="#f4eefc"/>
<rect x="46.50" y="78.60" width="14.80" height="1.20" fill="#ffe2e6"/>
<rect x="46.50" y="80.70" width="14.80" height="1.40" fill="#f4eefc"/>
<rect x="46.50" y="83.40" width="14.80" height="1.40" fill="#ffeee6"/>
<rect x="46.50" y="86.60" width="14.80" height="1.40" fill="#ffecee"/>
<rect x="46.50" y="88.90" width="14.80" height="0.90" fill="#ffe2e6"/>
<rect x="46.50" y="90.40" width="14.80" height="1.40" fill="#ffe6e8"/>
<rect x="46.50" y="92.70" width="14.80" height="1.40" fill="#f0eafb"/>
<rect x="46.50" y="95.40" width="14.80" height="1.40" fill="#f4eefc"/>
<rect x="46.50" y="97.70" width="14.80" height="1.40" fill="#f4eefc"/>
<rect x="46.50" y="99.70" width="14.80" height="1.20" fill="#ffe2e6"/>
<rect x="46.50" y="101.80" width="14.80" height="1.00" fill="#ebe4fa"/>
<rect x="46.50" y="104.60" width="14.80" height="0.90" fill="#ffe6e8"/>
<rect x="46.50" y="107.30" width="14.80" height="1.20" fill="#f0eafb"/>
<rect x="46.50" y="108.80" width="14.80" height="0.90" fill="#ffdfe3"/>
<rect x="46.50" y="111.00" width="14.80" height="0.90" fill="#ebe4fa"/>
<rect x="46.50" y="112.20" width="14.80" height="1.40" fill="#ffecee"/>
<rect x="46.50" y="113.90" width="14.80" height="1.20" fill="#ffeee6"/>
<rect x="46.50" y="116.40" width="14.80" height="0.90" fill="#ffe2e6"/>
<rect x="46.50" y="119.10" width="14.80" height="0.90" fill="#ffeee6"/>
<rect x="46.50" y="121.80" width="14.80" height="1.20" fill="#fff0f1"/>
<rect x="46.50" y="123.90" width="14.80" height="1.00" fill="#ffe2e6"/>
<rect x="46.50" y="125.80" width="14.80" height="0.90" fill="#ffd8dd"/>
<rect x="46.50" y="127.00" width="14.80" height="0.90" fill="#ffe6e8"/>
<rect x="46.50" y="129.20" width="14.80" height="1.20" fill="#f4eefc"/>
<rect x="46.50" y="131.30" width="14.80" height="1.00" fill="#ffe2e6"/>
<rect x="46.50" y="133.20" width="14.80" height="1.20" fill="#ebe4fa"/>
<rect x="46.50" y="135.00" width="14.80" height="1.40" fill="#ffeee6"/>
<rect x="46.50" y="137.70" width="14.80" height="1.40" fill="#f4eefc"/>
<rect x="46.50" y="140.90" width="14.80" height="0.90" fill="#f4eefc"/>
<rect x="46.50" y="143.60" width="14.80" height="1.20" fill="#ffeee6"/>
<rect x="46.50" y="145.40" width="14.80" height="1.20" fill="#ffeee6"/>
<rect x="46.50" y="147.50" width="14.80" height="1.20" fill="#fff0f1"/>
<rect x="46.50" y="149.60" width="14.80" height="0.90" fill="#ffeee6"/>
<rect x="46.50" y="152.30" width="14.80" height="1.20" fill="#ffe2e6"/>
<rect x="46.50" y="154.80" width="14.80" height="1.00" fill="#ffe2e6"/>
<rect x="46.50" y="156.70" width="14.80" height="1.40" fill="#ebe4fa"/>
<rect x="46.50" y="159.00" width="14.80" height="1.20" fill="#ffdfe3"/>
<rect x="46.50" y="160.50" width="14.80" height="0.90" fill="#ffe2e6"/>
<rect x="46.50" y="162.30" width="14.80" height="1.20" fill="#ffdfe3"/>
<rect x="46.50" y="164.40" width="14.80" height="1.20" fill="#ffecee"/>
<rect x="46.50" y="166.50" width="14.80" height="1.00" fill="#ebe4fa"/>
<rect x="46.50" y="168.40" width="14.80" height="1.20" fill="#f0eafb"/>
<rect x="46.50" y="170.90" width="14.80" height="0.90" fill="#ffe2e6"/>
<rect x="46.50" y="173.60" width="14.80" height="1.00" fill="#f0eafb"/>
<rect x="46.50" y="176.40" width="14.80" height="1.00" fill="#f0eafb"/>
<rect x="46.50" y="178.00" width="14.80" height="1.20" fill="#ffecee"/>
<rect x="46.50" y="180.50" width="14.80" height="0.90" fill="#ffd8dd"/>
<rect x="46.50" y="183.20" width="14.80" height="1.20" fill="#ebe4fa"/>
<rect x="46.50" y="185.00" width="14.80" height="1.40" fill="#ffecee"/>
<rect x="46.50" y="186.70" width="14.80" height="1.20" fill="#ffe6e8"/>
<rect x="46.50" y="189.70" width="14.80" height="1.40" fill="#f0eafb"/>
<rect x="46.50" y="191.70" width="14.80" height="0.90" fill="#ffe2e6"/>
<rect x="46.50" y="194.40" width="14.80" height="1.00" fill="#ebe4fa"/>
<rect x="46.50" y="197.20" width="14.80" height="1.00" fill="#f0eafb"/>
<rect x="46.50" y="199.10" width="14.80" height="0.90" fill="#f4eefc"/>
<rect x="46.50" y="200.90" width="14.80" height="1.00" fill="#ffeee6"/>
<rect x="46.50" y="202.80" width="14.80" height="1.20" fill="#ffdfe3"/>
<rect x="46.50" y="204.90" width="14.80" height="1.40" fill="#f0eafb"/>
<rect x="46.50" y="207.60" width="14.80" height="1.40" fill="#ffe2e6"/>
<rect x="46.50" y="210.30" width="14.80" height="1.00" fill="#ffe6e8"/>
<rect x="46.50" y="211.60" width="14.80" height="1.40" fill="#f4eefc"/>
<rect x="46.50" y="214.80" width="14.80" height="1.40" fill="#fff0f1"/>
<rect x="46.50" y="216.80" width="14.80" height="0.90" fill="#ffdfe3"/>
<rect x="46.50" y="219.50" width="14.80" height="1.20" fill="#fff0f1"/>
<rect x="46.50" y="221.60" width="14.80" height="1.00" fill="#ffd8dd"/>
<rect x="46.50" y="224.40" width="14.80" height="1.20" fill="#ffd8dd"/>
<rect x="46.50" y="226.20" width="14.80" height="0.90" fill="#ffe2e6"/>
<rect x="46.50" y="228.90" width="14.80" height="1.00" fill="#ffeee6"/>
<rect x="46.50" y="231.70" width="14.80" height="0.90" fill="#ffe2e6"/>
<rect x="46.50" y="233.90" width="14.80" height="0.90" fill="#ffecee"/>
<rect x="46.50" y="236.60" width="14.80" height="1.20" fill="#ffe6e8"/>
<rect x="46.50" y="238.10" width="14.80" height="1.40" fill="#ffe2e6"/>
<rect x="46.50" y="241.30" width="14.80" height="0.90" fill="#ebe4fa"/>
<rect x="46.50" y="242.80" width="14.80" height="1.20" fill="#fff0f1"/>
<rect x="46.50" y="245.30" width="14.80" height="0.90" fill="#ebe4fa"/>
<rect x="46.50" y="246.80" width="14.80" height="1.00" fill="#ffd8dd"/>
<rect x="46.50" y="249.60" width="14.80" height="0.90" fill="#ffecee"/>
<rect x="46.50" y="251.10" width="14.80" height="1.20" fill="#ffecee"/>
<rect x="46.50" y="252.60" width="14.80" height="1.40" fill="#f4eefc"/>
<rect x="46.50" y="255.30" width="14.80" height="0.90" fill="#f0eafb"/>
<rect x="46.50" y="256.80" width="14.80" height="1.20" fill="#f4eefc"/>
<rect x="46.50" y="259.80" width="14.80" height="1.40" fill="#ffe2e6"/>
<rect x="46.50" y="262.50" width="14.80" height="1.20" fill="#ffe2e6"/>
<rect x="46.50" y="264.00" width="14.80" height="1.00" fill="#ffe2e6"/>
<rect x="46.50" y="265.30" width="14.80" height="0.90" fill="#ffd8dd"/>
<rect x="46.50" y="267.50" width="14.80" height="0.90" fill="#ffd8dd"/>
<rect x="46.50" y="270.20" width="14.80" height="1.40" fill="#ebe4fa"/>
<rect x="46.50" y="272.20" width="14.80" height="1.20" fill="#ffd8dd"/>
<rect x="46.50" y="274.30" width="14.80" height="1.40" fill="#ffeee6"/>
<rect x="46.50" y="277.50" width="14.80" height="1.20" fill="#ebe4fa"/>
<rect x="46.50" y="279.60" width="14.80" height="1.00" fill="#ebe4fa"/>
<rect x="46.50" y="281.90" width="14.80" height="0.90" fill="#ffecee"/>
<rect x="46.50" y="284.60" width="14.80" height="0.90" fill="#ffeee6"/>
<rect x="46.50" y="285.80" width="14.80" height="1.00" fill="#ffe2e6"/>
<rect x="46.50" y="287.70" width="14.80" height="1.40" fill="#f4eefc"/>
<rect x="46.50" y="290.90" width="14.80" height="1.40" fill="#ffe2e6"/>
<rect x="46.50" y="294.10" width="14.80" height="1.40" fill="#ffe2e6"/>
<rect x="46.50" y="296.40" width="14.80" height="1.40" fill="#ebe4fa"/>
<rect x="46.50" y="299.10" width="14.80" height="1.40" fill="#ffdfe3"/>
<rect x="46.50" y="300.80" width="14.80" height="1.00" fill="#ffe6e8"/>
<rect x="46.50" y="303.60" width="14.80" height="1.20" fill="#f4eefc"/>
<rect x="46.50" y="305.10" width="14.80" height="1.40" fill="#ffe6e8"/>
<rect x="46.50" y="307.80" width="14.80" height="1.00" fill="#ffe2e6"/>
<rect x="46.50" y="309.70" width="14.80" height="1.20" fill="#fff0f1"/>
<rect x="46.50" y="311.80" width="14.80" height="0.90" fill="#ffdfe3"/>
<rect x="46.50" y="313.00" width="14.80" height="1.40" fill="#ffd8dd"/>
<rect x="46.50" y="315.30" width="14.80" height="0.90" fill="#f4eefc"/>
<rect x="46.50" y="316.50" width="14.80" height="1.40" fill="#ffecee"/>
<rect x="46.50" y="318.50" width="14.80" height="1.40" fill="#ffe2e6"/>
<rect x="46.50" y="321.70" width="14.80" height="0.90" fill="#f4eefc"/>
<rect x="46.50" y="322.90" width="14.80" height="1.40" fill="#ffecee"/>
<rect x="46.50" y="324.60" width="14.80" height="1.20" fill="#ffd8dd"/>
<rect x="46.50" y="326.10" width="14.80" height="0.90" fill="#ffdfe3"/>
<rect x="46.50" y="327.90" width="14.80" height="1.20" fill="#ffd8dd"/>
<rect x="46.50" y="329.40" width="14.80" height="1.00" fill="#ffd8dd"/>
<rect x="46.50" y="332.20" width="14.80" height="0.90" fill="#fff0f1"/>
<rect x="46.50" y="333.40" width="14.80" height="1.20" fill="#f4eefc"/>
<rect x="46.50" y="335.20" width="14.80" height="0.90" fill="#ffe6e8"/>
<rect x="46.50" y="336.70" width="14.80" height="1.00" fill="#ffdfe3"/>
<rect x="46.50" y="339.50" width="14.80" height="1.40" fill="#f0eafb"/>
<rect x="46.50" y="341.80" width="14.80" height="1.40" fill="#ebe4fa"/>
<rect x="46.50" y="345.00" width="14.80" height="1.40" fill="#ffd8dd"/>
<rect x="61.30" y="59.40" width="14.00" height="1.20" fill="#e6e6fa"/>
<rect x="61.30" y="62.40" width="14.00" height="0.90" fill="#fff2f4"/>
<rect x="61.30" y="63.90" width="14.00" height="0.90" fill="#f5f2fe"/>
<rect x="61.30" y="65.10" width="14.00" height="1.20" fill="#fff2f4"/>
<rect x="61.30" y="66.90" width="14.00" height="1.40" fill="#ececfc"/>
<rect x="61.30" y="68.60" width="14.00" height="1.00" fill="#efecfc"/>
<rect x="61.30" y="70.20" width="14.00" height="1.40" fill="#ffe8ec"/>
<rect x="61.30" y="72.20" width="14.00" height="1.40" fill="#f5f2fe"/>
<rect x="61.30" y="73.90" width="14.00" height="1.00" fill="#f6f4fe"/>
<rect x="61.30" y="76.70" width="14.00" height="1.40" fill="#f5f2fe"/>
<rect x="61.30" y="78.70" width="14.00" height="0.90" fill="#efecfc"/>
<rect x="61.30" y="80.20" width="14.00" height="1.00" fill="#f5f2fe"/>
<rect x="61.30" y="81.80" width="14.00" height="1.20" fill="#e6e6fa"/>
<rect x="61.30" y="83.60" width="14.00" height="1.00" fill="#f5f2fe"/>
<rect x="61.30" y="85.20" width="14.00" height="1.40" fill="#ffe8ec"/>
<rect x="61.30" y="86.90" width="14.00" height="1.20" fill="#f1eefc"/>
<rect x="61.30" y="88.70" width="14.00" height="1.00" fill="#ffe8ec"/>
<rect x="61.30" y="90.00" width="14.00" height="1.20" fill="#ffe8ec"/>
<rect x="61.30" y="93.00" width="14.00" height="0.90" fill="#f6f4fe"/>
<rect x="61.30" y="94.80" width="14.00" height="0.90" fill="#ffe8ec"/>
<rect x="61.30" y="96.60" width="14.00" height="1.20" fill="#fff2f4"/>
<rect x="61.30" y="98.70" width="14.00" height="1.00" fill="#fff2f4"/>
<rect x="61.30" y="101.00" width="14.00" height="1.00" fill="#efecfc"/>
<rect x="61.30" y="102.90" width="14.00" height="0.90" fill="#e6e6fa"/>
<rect x="61.30" y="105.10" width="14.00" height="0.90" fill="#ececfc"/>
<rect x="61.30" y="107.30" width="14.00" height="1.20" fill="#f1eefc"/>
<rect x="61.30" y="110.30" width="14.00" height="0.90" fill="#fff2f4"/>
<rect x="61.30" y="111.50" width="14.00" height="1.00" fill="#f6f4fe"/>
<rect x="61.30" y="113.10" width="14.00" height="0.90" fill="#ffeef1"/>
<rect x="61.30" y="115.30" width="14.00" height="1.20" fill="#ececfc"/>
<rect x="61.30" y="117.40" width="14.00" height="1.20" fill="#fff2f4"/>
<rect x="61.30" y="118.90" width="14.00" height="1.20" fill="#ffe8ec"/>
<rect x="61.30" y="120.40" width="14.00" height="1.40" fill="#e8e6fb"/>
<rect x="61.30" y="122.40" width="14.00" height="1.20" fill="#ececfc"/>
<rect x="61.30" y="125.40" width="14.00" height="1.20" fill="#f5f2fe"/>
<rect x="61.30" y="127.50" width="14.00" height="1.20" fill="#ececfc"/>
<rect x="61.30" y="129.00" width="14.00" height="1.20" fill="#e6e6fa"/>
<rect x="61.30" y="131.10" width="14.00" height="1.00" fill="#e8e6fb"/>
<rect x="61.30" y="132.70" width="14.00" height="1.20" fill="#fff2f4"/>
<rect x="61.30" y="134.50" width="14.00" height="0.90" fill="#e8e6fb"/>
<rect x="61.30" y="137.20" width="14.00" height="1.40" fill="#efecfc"/>
<rect x="61.30" y="139.20" width="14.00" height="1.20" fill="#ffe8ec"/>
<rect x="61.30" y="141.70" width="14.00" height="1.40" fill="#f5f2fe"/>
<rect x="61.30" y="143.40" width="14.00" height="0.90" fill="#fff2f4"/>
<rect x="61.30" y="145.20" width="14.00" height="1.00" fill="#f5f2fe"/>
<rect x="61.30" y="148.00" width="14.00" height="1.00" fill="#f1eefc"/>
<rect x="61.30" y="149.30" width="14.00" height="1.00" fill="#f1eefc"/>
<rect x="61.30" y="151.20" width="14.00" height="1.00" fill="#efecfc"/>
<rect x="61.30" y="153.50" width="14.00" height="1.20" fill="#f5f2fe"/>
<rect x="61.30" y="156.00" width="14.00" height="1.00" fill="#ececfc"/>
<rect x="61.30" y="158.30" width="14.00" height="1.40" fill="#e6e6fa"/>
<rect x="61.30" y="161.00" width="14.00" height="1.20" fill="#ffe8ec"/>
<rect x="61.30" y="163.50" width="14.00" height="1.40" fill="#f5f2fe"/>
<rect x="61.30" y="165.20" width="14.00" height="1.40" fill="#ececfc"/>
<rect x="61.30" y="167.20" width="14.00" height="1.40" fill="#e6e6fa"/>
<rect x="61.30" y="169.20" width="14.00" height="0.90" fill="#fff2f4"/>
<rect x="61.30" y="171.00" width="14.00" height="1.20" fill="#e8e6fb"/>
<rect x="61.30" y="173.10" width="14.00" height="0.90" fill="#ffe8ec"/>
<rect x="61.30" y="174.90" width="14.00" height="1.20" fill="#fff2f4"/>
<rect x="61.30" y="177.00" width="14.00" height="1.20" fill="#e6e6fa"/>
<rect x="61.30" y="178.80" width="14.00" height="0.90" fill="#fff2f4"/>
<rect x="61.30" y="181.50" width="14.00" height="1.20" fill="#e6e6fa"/>
<rect x="61.30" y="183.60" width="14.00" height="1.40" fill="#ffe8ec"/>
<rect x="61.30" y="186.80" width="14.00" height="1.20" fill="#e6e6fa"/>
<rect x="61.30" y="188.90" width="14.00" height="1.20" fill="#f1eefc"/>
<rect x="61.30" y="191.00" width="14.00" height="1.00" fill="#fff2f4"/>
<rect x="61.30" y="192.90" width="14.00" height="1.20" fill="#ececfc"/>
<rect x="61.30" y="194.70" width="14.00" height="1.00" fill="#ffeef1"/>
<rect x="61.30" y="196.60" width="14.00" height="1.40" fill="#ffe8ec"/>
<rect x="61.30" y="198.30" width="14.00" height="1.40" fill="#f5f2fe"/>
<rect x="61.30" y="201.50" width="14.00" height="1.40" fill="#ffe8ec"/>
<rect x="61.30" y="204.70" width="14.00" height="1.20" fill="#efecfc"/>
<rect x="61.30" y="206.50" width="14.00" height="1.00" fill="#f6f4fe"/>
<rect x="61.30" y="208.80" width="14.00" height="1.00" fill="#ffeef1"/>
<rect x="61.30" y="210.40" width="14.00" height="0.90" fill="#fff2f4"/>
<rect x="61.30" y="211.90" width="14.00" height="1.00" fill="#efecfc"/>
<rect x="61.30" y="213.50" width="14.00" height="0.90" fill="#e6e6fa"/>
<rect x="61.30" y="215.00" width="14.00" height="1.40" fill="#ffeef1"/>
<rect x="61.30" y="218.20" width="14.00" height="0.90" fill="#f1eefc"/>
<rect x="61.30" y="220.40" width="14.00" height="1.20" fill="#f1eefc"/>
<rect x="61.30" y="223.40" width="14.00" height="0.90" fill="#f6f4fe"/>
<rect x="61.30" y="224.90" width="14.00" height="1.00" fill="#e6e6fa"/>
<rect x="61.30" y="226.20" width="14.00" height="1.20" fill="#f1eefc"/>
<rect x="61.30" y="228.30" width="14.00" height="1.40" fill="#e8e6fb"/>
<rect x="61.30" y="231.50" width="14.00" height="1.20" fill="#efecfc"/>
<rect x="61.30" y="234.50" width="14.00" height="1.20" fill="#e8e6fb"/>
<rect x="61.30" y="236.60" width="14.00" height="1.20" fill="#f6f4fe"/>
<rect x="61.30" y="238.70" width="14.00" height="1.20" fill="#f5f2fe"/>
<rect x="61.30" y="241.20" width="14.00" height="1.40" fill="#f6f4fe"/>
<rect x="61.30" y="244.40" width="14.00" height="1.20" fill="#fff2f4"/>
<rect x="61.30" y="246.20" width="14.00" height="1.00" fill="#f6f4fe"/>
<rect x="61.30" y="248.50" width="14.00" height="1.40" fill="#ffeef1"/>
<rect x="61.30" y="250.50" width="14.00" height="0.90" fill="#e6e6fa"/>
<rect x="61.30" y="251.70" width="14.00" height="1.40" fill="#e8e6fb"/>
<rect x="61.30" y="254.00" width="14.00" height="1.00" fill="#e6e6fa"/>
<rect x="61.30" y="256.80" width="14.00" height="1.40" fill="#f1eefc"/>
<rect x="61.30" y="259.50" width="14.00" height="1.00" fill="#fff2f4"/>
<rect x="61.30" y="261.40" width="14.00" height="1.40" fill="#f1eefc"/>
<rect x="61.30" y="264.10" width="14.00" height="1.00" fill="#f6f4fe"/>
<rect x="61.30" y="266.90" width="14.00" height="1.20" fill="#ffe8ec"/>
<rect x="61.30" y="269.40" width="14.00" height="1.20" fill="#f1eefc"/>
<rect x="61.30" y="270.90" width="14.00" height="1.20" fill="#ffe8ec"/>
<rect x="61.30" y="273.40" width="14.00" height="1.20" fill="#f5f2fe"/>
<rect x="61.30" y="275.90" width="14.00" height="0.90" fill="#e8e6fb"/>
<rect x="61.30" y="278.60" width="14.00" height="1.40" fill="#ffeef1"/>
<rect x="61.30" y="280.90" width="14.00" height="0.90" fill="#f5f2fe"/>
<rect x="61.30" y="283.10" width="14.00" height="0.90" fill="#fff2f4"/>
<rect x="61.30" y="285.80" width="14.00" height="1.20" fill="#ffeef1"/>
<rect x="61.30" y="288.30" width="14.00" height="0.90" fill="#ffeef1"/>
<rect x="61.30" y="290.50" width="14.00" height="1.20" fill="#f5f2fe"/>
<rect x="61.30" y="292.60" width="14.00" height="1.20" fill="#fff2f4"/>
<rect x="61.30" y="295.60" width="14.00" height="1.40" fill="#ececfc"/>
<rect x="61.30" y="298.80" width="14.00" height="0.90" fill="#efecfc"/>
<rect x="61.30" y="300.30" width="14.00" height="1.20" fill="#ffe8ec"/>
<rect x="61.30" y="303.30" width="14.00" height="1.20" fill="#f6f4fe"/>
<rect x="61.30" y="305.40" width="14.00" height="0.90" fill="#fff2f4"/>
<rect x="61.30" y="307.20" width="14.00" height="1.20" fill="#f6f4fe"/>
<rect x="61.30" y="309.00" width="14.00" height="0.90" fill="#efecfc"/>
<rect x="61.30" y="310.80" width="14.00" height="1.40" fill="#e8e6fb"/>
<rect x="61.30" y="314.00" width="14.00" height="1.00" fill="#efecfc"/>
<rect x="61.30" y="316.30" width="14.00" height="1.40" fill="#f6f4fe"/>
<rect x="61.30" y="319.50" width="14.00" height="1.40" fill="#f1eefc"/>
<rect x="61.30" y="322.20" width="14.00" height="1.40" fill="#ffeef1"/>
<rect x="61.30" y="324.50" width="14.00" height="1.40" fill="#e8e6fb"/>
<rect x="61.30" y="326.80" width="14.00" height="0.90" fill="#f1eefc"/>
<rect x="61.30" y="329.50" width="14.00" height="1.20" fill="#fff2f4"/>
<rect x="61.30" y="331.60" width="14.00" height="1.00" fill="#f5f2fe"/>
<rect x="61.30" y="333.90" width="14.00" height="1.40" fill="#e6e6fa"/>
<rect x="61.30" y="337.10" width="14.00" height="1.00" fill="#f1eefc"/>
<rect x="61.30" y="339.90" width="14.00" height="0.90" fill="#e8e6fb"/>
<rect x="61.30" y="341.40" width="14.00" height="1.20" fill="#e8e6fb"/>
<rect x="61.30" y="342.90" width="14.00" height="0.90" fill="#e6e6fa"/>
<rect x="61.30" y="345.10" width="14.00" height="0.90" fill="#f1eefc"/>
<rect x="46.50" y="59.20" width="14.80" height="1.80" fill="#fad4da"/>
<rect x="46.50" y="63.70" width="14.80" height="1.80" fill="#ffccd3"/>
<rect x="46.50" y="67.00" width="14.80" height="1.80" fill="#ffc0c8"/>
<rect x="46.50" y="72.30" width="14.80" height="1.80" fill="#ffb0bc"/>
<rect x="46.50" y="77.70" width="14.80" height="2.00" fill="#ffacb8"/>
<rect x="46.50" y="92.50" width="14.80" height="1.60" fill="#ffd0d6"/>
<rect x="46.50" y="97.60" width="14.80" height="1.80" fill="#e8dafa"/>
<rect x="46.50" y="103.00" width="14.80" height="1.80" fill="#e0d4f6"/>
<rect x="46.50" y="108.50" width="14.80" height="1.40" fill="#ffd4d8"/>
<rect x="46.50" y="113.50" width="14.80" height="1.60" fill="#ffccd2"/>
<rect x="46.50" y="119.50" width="14.80" height="1.50" fill="#ffd8dc"/>
<rect x="46.50" y="147.00" width="14.80" height="1.50" fill="#ffd0d6"/>
<rect x="46.50" y="161.00" width="14.80" height="1.50" fill="#ffd4da"/>
<rect x="46.50" y="165.00" width="14.80" height="1.50" fill="#ece0f8"/>
<rect x="46.50" y="170.00" width="14.80" height="1.50" fill="#ffc8d0"/>
<rect x="46.50" y="174.00" width="14.80" height="1.40" fill="#ffd4d8"/>
<rect x="46.50" y="192.00" width="14.80" height="1.50" fill="#ffc8d0"/>
<rect x="46.50" y="195.00" width="14.80" height="1.40" fill="#ffd0d6"/>
<rect x="46.50" y="215.50" width="14.80" height="1.60" fill="#ffb4be"/>
<rect x="46.50" y="231.00" width="14.80" height="1.40" fill="#ffd0d6"/>
<rect x="46.50" y="247.00" width="14.80" height="1.40" fill="#e6dcf8"/>
<rect x="46.50" y="258.00" width="14.80" height="1.40" fill="#ffccd2"/>
<rect x="46.50" y="271.80" width="14.80" height="1.50" fill="#ffb4bc"/>
<rect x="46.50" y="276.70" width="14.80" height="1.40" fill="#e8e0fa"/>
<rect x="46.50" y="279.30" width="14.80" height="1.40" fill="#dfe0fa"/>
<rect x="46.50" y="283.80" width="14.80" height="1.40" fill="#ffb8c0"/>
<rect x="46.50" y="287.60" width="14.80" height="1.50" fill="#ffe6cc"/>
<rect x="46.50" y="293.90" width="14.80" height="1.70" fill="#d8d0f4"/>
<rect x="46.50" y="296.90" width="14.80" height="1.80" fill="#ffa8b2"/>
<rect x="46.50" y="299.10" width="14.80" height="1.40" fill="#ffc8d0"/>
<rect x="46.50" y="305.60" width="14.80" height="1.20" fill="#dcdcfa"/>
<rect x="46.50" y="317.00" width="14.80" height="1.50" fill="#dcd4f4"/>
<rect x="46.50" y="320.80" width="14.80" height="1.50" fill="#d6cef4"/>
<rect x="46.50" y="323.80" width="14.80" height="2.00" fill="#f4c8dc"/>
<rect x="46.50" y="331.60" width="14.80" height="1.20" fill="#d8d8fa"/>
<rect x="46.50" y="335.80" width="14.80" height="1.80" fill="#ffb0b8"/>
<rect x="46.50" y="338.20" width="14.80" height="1.40" fill="#ffc8d0"/>
<rect x="46.50" y="342.00" width="14.80" height="1.50" fill="#ffb0b8"/>
<rect x="46.50" y="344.00" width="14.80" height="2.80" fill="#ffd4d8"/>
<rect x="61.30" y="67.00" width="14.00" height="1.80" fill="#d8d8fa"/>
<rect x="61.30" y="100.00" width="14.00" height="1.50" fill="#e0e0fa"/>
<rect x="61.30" y="110.00" width="14.00" height="1.30" fill="#e4e0fa"/>
<rect x="61.30" y="131.00" width="14.00" height="1.30" fill="#e0e0fa"/>
<rect x="61.30" y="150.00" width="14.00" height="1.40" fill="#ffdce2"/>
<rect x="61.30" y="181.00" width="14.00" height="1.30" fill="#e2e0fa"/>
<rect x="61.30" y="205.00" width="14.00" height="1.30" fill="#e0dcf8"/>
<rect x="61.30" y="240.00" width="14.00" height="1.30" fill="#ffdce2"/>
<rect x="61.30" y="276.70" width="14.00" height="1.40" fill="#e6e2fa"/>
<rect x="61.30" y="287.60" width="14.00" height="1.50" fill="#dcd4f8"/>
<rect x="61.30" y="291.00" width="14.00" height="1.30" fill="#e0dcfa"/>
<rect x="61.30" y="299.30" width="14.00" height="1.30" fill="#ffdce0"/>
<rect x="61.30" y="301.20" width="14.00" height="1.40" fill="#ffd4dc"/>
<rect x="61.30" y="309.20" width="14.00" height="1.50" fill="#dcdcfa"/>
<rect x="61.30" y="314.00" width="14.00" height="1.20" fill="#ffe4e8"/>
<rect x="61.30" y="329.00" width="14.00" height="1.50" fill="#dcd8fa"/>
<rect x="61.30" y="338.50" width="14.00" height="1.30" fill="#e0dcfa"/>
<rect x="61.30" y="343.00" width="14.00" height="1.20" fill="#e6e2fa"/>
</g>

<g fill="none" stroke="#000" stroke-width="1.3" stroke-linejoin="miter">
  <!-- chr axis -->
  <path d="M24.9 59.2V348.6M18.2 59.2H31.6M18.2 152.9H31.6M18.2 348.6H31.6" stroke-width="1.3"/>
  <!-- retention genotype zoom -->
  <rect x="201.5" y="92" width="27.19999999999999" height="162.8"/>
  <rect x="150" y="92" width="32.2" height="5.9"/>
  <path d="M182.2 92H201.5M182.2 97.9L201.5 254.8"/>
  <!-- LOH genotype zoom -->
  <rect x="199.6" y="300.6" width="26.599999999999994" height="162.4"/>
  <rect x="148" y="300.6" width="31.7" height="5.8"/>
  <path d="M179.7 300.6H199.6M179.7 306.4L199.6 463"/>
  <!-- raw LOH retention zoom -->
  <rect x="297.7" y="91.7" width="19.8" height="162.3"/>
  <rect x="337.2" y="91.7" width="25.3" height="6.1"/>
  <path d="M317.5 91.7H337.2M337.2 97.8L317.5 254"/>
  <!-- raw LOH LOH zoom -->
  <rect x="298.8" y="301.5" width="19.7" height="162.5"/>
  <rect x="337.7" y="301.5" width="25.9" height="6.5"/>
  <path d="M318.5 301.5H337.7M337.7 308L318.5 464"/>
  <!-- arrows -->
  <path d="M216.2 24.3H309.6M302.6 20.3L309.8 24.3L302.6 28.3" stroke-width="1.2"/>
  <path d="M378 27H417.8M410.8 23L418 27L410.8 31.2" stroke-width="1.2"/>
</g>

<rect x="168.45" y="485.35" width="14" height="12.9" fill="#f40000" stroke="#111" stroke-width="0.9"/>
<rect x="168.45" y="505.85" width="14" height="12.6" fill="#0000f0" stroke="#111" stroke-width="0.9"/>
<rect x="168.45" y="525.75" width="14" height="13.4" fill="#ffff00" stroke="#111" stroke-width="0.9"/>
<rect x="303.75" y="485.55" width="13.7" height="12.7" fill="#ffff00" stroke="#111" stroke-width="0.9"/>
<rect x="303.75" y="505.95" width="13.7" height="12.7" fill="#0000f0" stroke="#111" stroke-width="0.9"/>
<rect x="303.75" y="525.95" width="13.7" height="13.1" fill="#c8c8c8" stroke="#111" stroke-width="0.9"/>
<rect x="303.75" y="546.35" width="13.7" height="12.7" fill="#f40000" stroke="#111" stroke-width="0.9"/>
<rect x="445.55" y="485.35" width="13.6" height="13.2" fill="#ffff00" stroke="#111" stroke-width="0.9"/>
<rect x="445.55" y="505.85" width="13.6" height="12.9" fill="#0000f0" stroke="#111" stroke-width="0.9"/>
<rect x="0.90" y="485.80" width="13.42" height="7.80" fill="#0000dc"/>
<rect x="14.62" y="485.80" width="13.42" height="7.80" fill="#3030e4"/>
<rect x="28.34" y="485.80" width="13.42" height="7.80" fill="#7474f0"/>
<rect x="42.07" y="485.80" width="13.42" height="7.80" fill="#c0c0fa"/>
<rect x="55.79" y="485.80" width="13.42" height="7.80" fill="#ffffff"/>
<rect x="69.51" y="485.80" width="13.42" height="7.80" fill="#ffc8c8"/>
<rect x="83.23" y="485.80" width="13.42" height="7.80" fill="#ff7070"/>
<rect x="96.96" y="485.80" width="13.42" height="7.80" fill="#f83838"/>
<rect x="110.68" y="485.80" width="13.42" height="7.80" fill="#ec0000"/>
<rect x="0.75" y="485.5" width="123.5" height="8.3" fill="none" stroke="#222" stroke-width="0.9"/>
<g opacity="0.996">
<text x="62" y="12.5" font-size="12" text-anchor="middle">Copy number</text>
<text x="62" y="26.8" font-size="12" text-anchor="middle">analysis</text>
<text x="167" y="12.5" font-size="12" text-anchor="middle">Genotype</text>
<text x="167" y="26.8" font-size="12" text-anchor="middle">analysis</text>
<text x="344.1" y="12.3" font-size="12" text-anchor="middle">Raw LOH</text>
<text x="344" y="26.8" font-size="12" text-anchor="middle">analysis</text>
<text x="453.6" y="13" font-size="12" text-anchor="middle">Inferred LOH</text>
<text x="453.3" y="26.8" font-size="12" text-anchor="middle">analysis</text>
<text x="263.3" y="8.3" font-size="9.5" text-anchor="middle" font-weight="bold" font-style="italic" style="fill:#000;stroke:#000;stroke-width:0.25px" textLength="32.4" lengthAdjust="spacingAndGlyphs">N vs. T</text>
<text x="263.3" y="19.5" font-size="9.5" text-anchor="middle" font-weight="bold" font-style="italic" style="fill:#000;stroke:#000;stroke-width:0.25px" textLength="57.6" lengthAdjust="spacingAndGlyphs">comparison</text>
<text x="395.3" y="20.6" font-size="9.7" text-anchor="middle" font-weight="bold" font-style="italic" style="fill:#000;stroke:#000;stroke-width:0.25px" textLength="28.2" lengthAdjust="spacingAndGlyphs">HMM</text>
<text x="263" y="78.7" font-size="11.8" text-anchor="middle" font-weight="bold" font-style="italic" style="fill:#000;stroke:#000;stroke-width:0.25px" textLength="57" lengthAdjust="spacingAndGlyphs">Retention</text>
<text x="263.1" y="294.4" font-size="11.5" text-anchor="middle" font-weight="bold" font-style="italic" style="fill:#000;stroke:#000;stroke-width:0.25px" textLength="24.2" lengthAdjust="spacingAndGlyphs">LOH</text>
<text x="2.8" y="51.6" font-size="12.8" text-anchor="start">Chr.4</text>
<text x="8" y="100.4" font-size="11.5" text-anchor="start">4p</text>
<text x="8" y="193" font-size="11.5" text-anchor="start">4q</text>
<text x="50.6" y="52.2" font-size="10.8" text-anchor="start">N</text>
<text x="65.6" y="52.2" font-size="10.8" text-anchor="start">T</text>
<text x="154.8" y="55.8" font-size="10.8" text-anchor="start">N</text>
<text x="170.6" y="55.8" font-size="10.8" text-anchor="start">T</text>
<text x="203.6" y="87.7" font-size="10.8" text-anchor="start">N</text>
<text x="218.6" y="87.7" font-size="10.8" text-anchor="start">T</text>
<text x="202.3" y="295" font-size="10.8" text-anchor="start">N</text>
<text x="217.7" y="295" font-size="10.8" text-anchor="start">T</text>
<text x="192.3" y="495.9" font-size="11.6" text-anchor="start">A</text>
<text x="192.3" y="516.3" font-size="11.6" text-anchor="start">B</text>
<text x="191" y="536.7" font-size="11.6" text-anchor="start">AB</text>
<text x="325.5" y="495.8" font-size="12" text-anchor="start">Retention</text>
<text x="325.5" y="516.5" font-size="12" text-anchor="start">LOH</text>
<text x="325.5" y="536.6" font-size="12" text-anchor="start">Non-informative</text>
<text x="325.5" y="556.7" font-size="12" text-anchor="start">Conflict</text>
<text x="467.8" y="495.8" font-size="12" text-anchor="start">Retention</text>
<text x="467.8" y="516.5" font-size="12" text-anchor="start">LOH</text>
<text x="64.7" y="517.5" font-size="9.7" text-anchor="middle">Copy number</text>
<text x="64.7" y="528" font-size="9.7" text-anchor="middle">(log 2 ratio)</text>
<text x="8.6" y="501.3" font-size="7" text-anchor="middle" textLength="9.8" lengthAdjust="spacingAndGlyphs">-1.0</text>
<text x="22.2" y="501.3" font-size="7" text-anchor="middle" textLength="9.8" lengthAdjust="spacingAndGlyphs">-0.8</text>
<text x="36.2" y="501.3" font-size="7" text-anchor="middle" textLength="9.8" lengthAdjust="spacingAndGlyphs">-0.5</text>
<text x="50" y="501.3" font-size="7" text-anchor="middle" textLength="9.8" lengthAdjust="spacingAndGlyphs">-0.3</text>
<text x="63" y="501.3" font-size="7" text-anchor="middle" textLength="3.6" lengthAdjust="spacingAndGlyphs">0</text>
<text x="76.5" y="501.3" font-size="7" text-anchor="middle" textLength="8.0" lengthAdjust="spacingAndGlyphs">0.3</text>
<text x="90.2" y="501.3" font-size="7" text-anchor="middle" textLength="8.0" lengthAdjust="spacingAndGlyphs">0.5</text>
<text x="104" y="501.3" font-size="7" text-anchor="middle" textLength="8.0" lengthAdjust="spacingAndGlyphs">0.8</text>
<text x="117.7" y="501.3" font-size="7" text-anchor="middle" textLength="8.0" lengthAdjust="spacingAndGlyphs">1.0</text>
</g>
</svg>
</body></html>
